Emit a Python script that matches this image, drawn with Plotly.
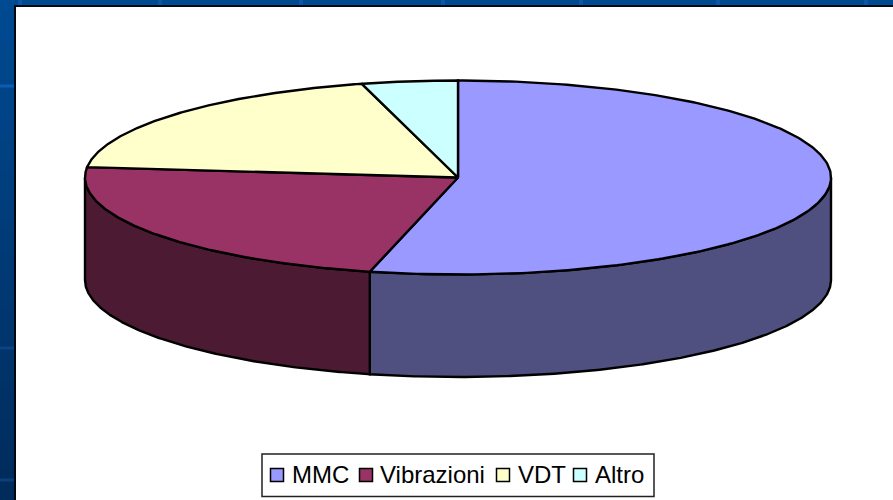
import numpy as np
import plotly.graph_objects as go

categories = ["MMC", "Vibrazioni", "VDT", "Altro"]
values = [53.8, 22.9, 19.15, 4.15]
top_colors = ["#9999ff", "#993366", "#ffffcc", "#ccffff"]
side_colors = ["#4f4f80", "#4d1a33", "#80806a", "#6a8080"]

W, H = 893, 500
CX, CY, RX, RY, DEPTH = 458, 177.5, 373, 97, 102.5
INK = "#000000"
LW = 2.4


def rim(a, b, drop=0, n=240):
    t = np.radians(np.linspace(a, b, n))
    return CX + RX * np.sin(t), CY + drop - RY * np.cos(t)


fig = go.Figure()

# background: slide gradient bands, then the white chart panel
shapes = []
bands = 50
for i in range(bands):
    f = i / (bands - 1)
    c = (0, round(74 - 31 * f), round(146 - 55 * f))
    shapes.append(dict(type="rect", layer="below", xref="x", yref="y", x0=0, x1=W,
                       y0=i * H / bands, y1=(i + 1) * H / bands + 1,
                       fillcolor=f"rgb{c}", line_width=0))
for lx in [20, 160, 301, 443, 581, 718, 866]:
    shapes.append(dict(type="rect", layer="below", xref="x", yref="y", x0=lx - 2, x1=lx + 2,
                       y0=0, y1=6, fillcolor="#0a56a8", line_width=0))
for ly, col in [(86, "#0a5cb4"), (348, "#0b4384"), (480, "#0b3f7a")]:
    shapes.append(dict(type="rect", layer="below", xref="x", yref="y", x0=0, x1=15,
                       y0=ly - 1.5, y1=ly + 1.5, fillcolor=col, line_width=0))
shapes.append(dict(type="rect", layer="below", xref="x", yref="y", x0=15, x1=W + 5,
                   y0=6, y1=H + 5, fillcolor="#ffffff", line=dict(color="#000814", width=2)))
# legend frame
shapes.append(dict(type="rect", layer="below", xref="x", yref="y", x0=262, x1=654,
                   y0=454, y1=496.5, fillcolor="#ffffff", line=dict(color="#222222", width=1.5)))

# slice angles come from the values
edges = np.concatenate([[0], np.cumsum(values)]) / np.sum(values) * 360

# side walls: only the part of each slice facing the viewer (90 to 270 degrees)
for i, cat in enumerate(categories):
    a, b = max(edges[i], 90), min(edges[i + 1], 270)
    if b <= a:
        continue
    x1, y1 = rim(a, b)
    x2, y2 = rim(b, a, DEPTH)
    fig.add_trace(go.Scatter(x=np.r_[x1, x2, x1[0]], y=np.r_[y1, y2, y1[0]], mode="lines",
                             fill="toself", fillcolor=side_colors[i],
                             line=dict(color=INK, width=LW), hoverinfo="skip", name=cat + " lato"))

# top faces
for i, cat in enumerate(categories):
    x1, y1 = rim(edges[i], edges[i + 1])
    fig.add_trace(go.Scatter(x=np.r_[CX, x1, CX], y=np.r_[CY, y1, CY], mode="lines",
                             fill="toself", fillcolor=top_colors[i],
                             line=dict(color=INK, width=LW), name=cat))

# legend
legend_marker_x = [277, 366, 503, 580]
legend_text_x = [292, 380, 518, 595]
legend_y = 475
for i, cat in enumerate(categories):
    fig.add_trace(go.Scatter(x=[legend_marker_x[i]], y=[legend_y], mode="markers",
                             marker=dict(symbol="square", size=13, color=top_colors[i],
                                         line=dict(color=INK, width=1.5)),
                             hoverinfo="skip", name=cat))
    fig.add_annotation(x=legend_text_x[i], y=legend_y, text=cat, showarrow=False,
                       xanchor="left", yanchor="middle", xshift=-1, yshift=1, borderpad=0,
                       font=dict(family="Liberation Sans", size=24, color="#000000"))

fig.update_layout(
    width=W, height=H, margin=dict(l=0, r=0, t=0, b=0), showlegend=False,
    paper_bgcolor="#ffffff", plot_bgcolor="rgba(0,0,0,0)", shapes=shapes,
    xaxis=dict(range=[0, W], visible=False, fixedrange=True),
    yaxis=dict(range=[H, 0], visible=False, fixedrange=True),
)
fig.write_html("out.html", config=dict(displayModeBar=False),
               post_script="document.body.style.margin='0';")
